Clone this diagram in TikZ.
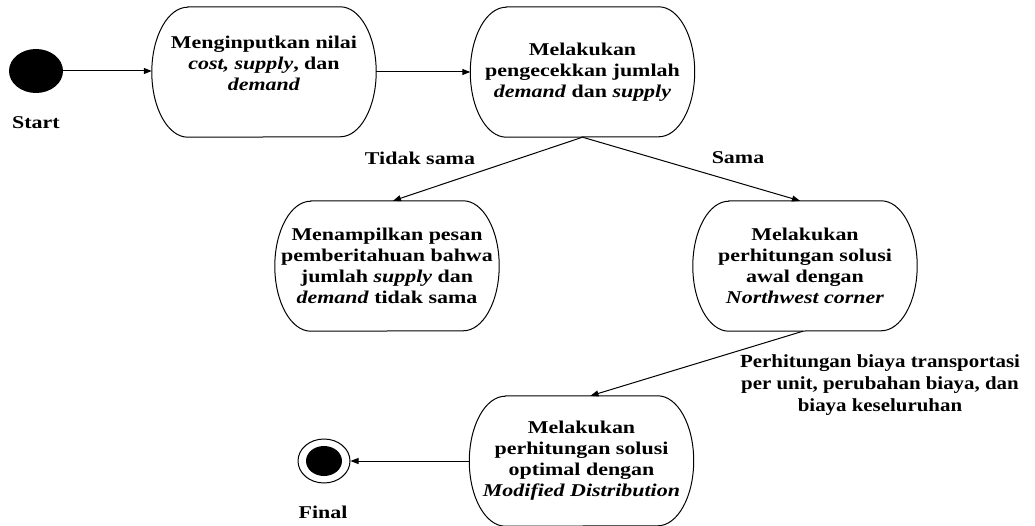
\documentclass[tikz,border=0pt]{standalone}
\usepackage{fontspec}
\setmainfont{Liberation Serif}[FakeStretch=1.22]
\newfontfamily\lblfont{Liberation Serif}[FakeStretch=1.13]
\usetikzlibrary{arrows.meta,shapes.geometric}
\tikzset{
  st/.style={rectangle, minimum width=224pt, minimum height=130pt, inner sep=0pt,
    align=center, font=\fontsize{18}{21}\selectfont\bfseries},
  lbl/.style={font=\fontsize{18}{21}\selectfont\bfseries, inner sep=0pt, align=center},
  conn/.style={draw, line width=1pt, -{Triangle[length=8pt,width=6pt]}},
  outline/.style={draw, line width=1pt},
}
\newcommand\stoutline[1]{%
  \draw[outline] ([xshift=36pt]#1.north west) -- ([xshift=-36pt]#1.north east)
    arc[start angle=90,end angle=-90,x radius=36pt,y radius=65pt]
    -- ([xshift=36pt]#1.south west)
    arc[start angle=270,end angle=90,x radius=36pt,y radius=65pt] -- cycle;}
\begin{document}
\begin{tikzpicture}[x=1pt,y=-1pt]
\useasboundingbox (0,0) rectangle (1035,526);
% start / final
\node[fill, ellipse, minimum width=54pt, minimum height=44pt, inner sep=0pt] (s) at (36,71) {};
\node[lbl] (slab) at (36,123) {Start};
\node[draw, line width=1pt, ellipse, minimum width=52pt, minimum height=44pt, inner sep=0pt] (f) at (324,461) {};
\node[fill, ellipse, minimum width=36pt, minimum height=30pt, inner sep=0pt] (fi) at (f) {};
\node[lbl] (flab) at (323,512) {Final};
% states
\node[st] (b1) at (264,72) {Menginputkan nilai\\\textit{cost, supply}, dan\\\textit{demand}\\[-4pt]};
\node[st] (b2) at (582.5,72) {Melakukan\\pengecekkan jumlah\\\textit{demand} dan \textit{supply}};
\node[st] (b3) at (387,266) {Menampilkan pesan\\pemberitahuan bahwa\\jumlah \textit{supply} dan\\\textit{demand} tidak sama};
\node[st] (b4) at (805,266) {Melakukan\\perhitungan solusi\\awal dengan\\\textit{Northwest corner}};
\node[st] (b5) at (581.5,461) {Melakukan\\perhitungan solusi\\optimal dengan\\\textit{Modified Distribution}};
\stoutline{b1}
\stoutline{b2}
\stoutline{b3}
\stoutline{b4}
\stoutline{b5}
% connectors
\draw[conn] (s.east) -- (s.east -| b1.west);
\draw[conn] (b1.east) -- (b2.west);
\draw[conn] (b2.south) -- ([xshift=6pt]b3.north);
\draw[conn] (b2.south) -- ([xshift=-5pt]b4.north);
\draw[conn] ([xshift=-2pt]b4.south) -- ([xshift=9pt]b5.north);
\draw[conn] (b5.west) -- (f.east);
% labels
\node[lbl] (l1) at (420,158) {Tidak sama};
\node[lbl] (l2) at (738,158) {Sama};
\node[lbl, font=\fontsize{18.5}{22}\lblfont\bfseries] (l3) at (880,385) {Perhitungan biaya transportasi\\per unit, perubahan biaya, dan\\biaya keseluruhan};
\end{tikzpicture}
\end{document}
